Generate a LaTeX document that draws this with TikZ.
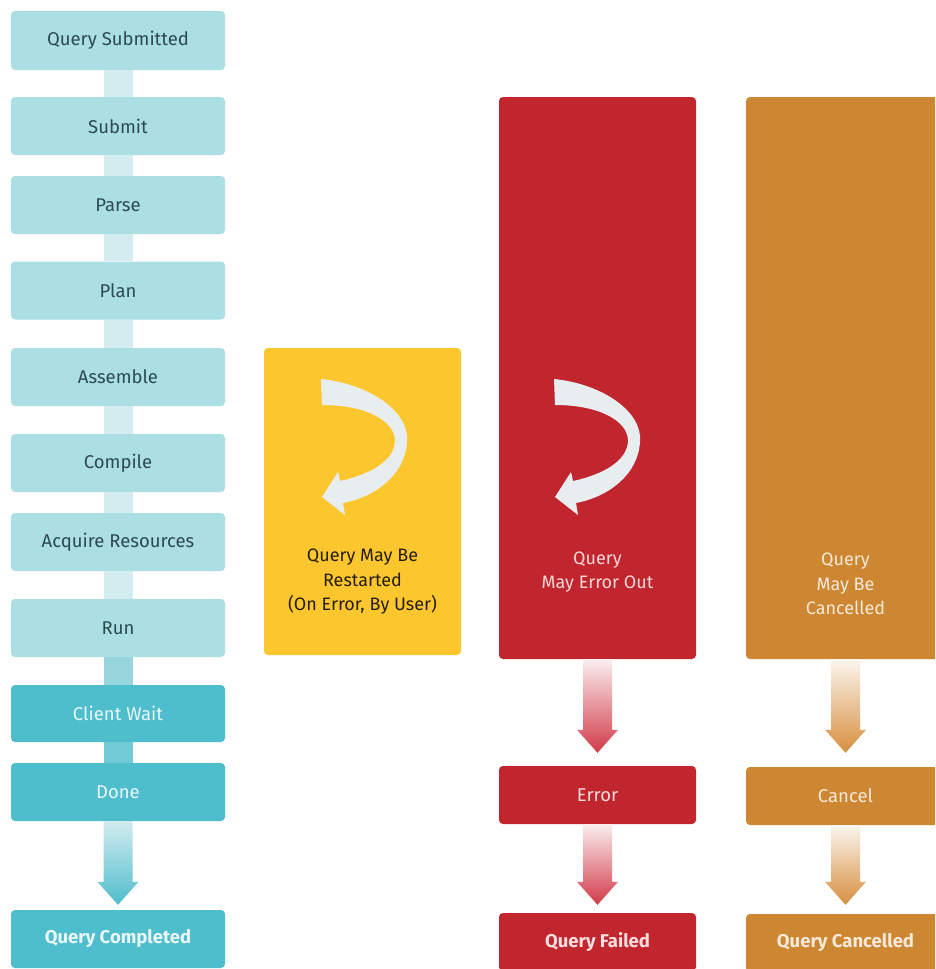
\documentclass[tikz,border=0pt]{standalone}
\usepackage{fontspec}
\setmainfont{Fira Sans}
\usetikzlibrary{calc}
\definecolor{lteal}{HTML}{ACDFE4}
\definecolor{bar}{HTML}{D2ECEF}
\definecolor{barmid}{HTML}{97D6DD}
\definecolor{dteal}{HTML}{4EBDCC}
\definecolor{yel}{HTML}{FCC72E}
\definecolor{redb}{HTML}{C1252D}
\definecolor{redarr}{HTML}{D23A48}
\definecolor{orab}{HTML}{CD8732}
\definecolor{oraarr}{HTML}{D88E3E}
\definecolor{curv}{HTML}{E8EEF0}
\definecolor{ltext}{HTML}{2C4A50}
\tikzset{
  box/.style={rounded corners=4pt, minimum width=214pt, minimum height=58pt, inner sep=0pt, font=\fontsize{18.5}{21}\selectfont, align=center},
  lbox/.style={box, fill=lteal, text=ltext},
  dbox/.style={box, fill=dteal, text=white!88!dteal},
  rbox/.style={box, minimum width=197pt, fill=redb, text=white!85!redb},
  obox/.style={box, minimum width=199pt, fill=orab, text=white!82!orab},
  bigbox/.style={rounded corners=4pt, inner sep=0pt},
  lbl/.style={font=\fontsize{18}{24.5}\selectfont, align=center, inner sep=0pt},
}
\newcommand\fatarr[5]{%
  \shade[top color=#3,bottom color=#4]
    ($(#1.south)+(-14.5,0)$) -- ($(#2.north)+(-14.5,-23-#5)$) -- ($(#2.north)+(-20.5,-23-#5)$)
    -- ($(#2.north)+(0,-#5)$) -- ($(#2.north)+(20.5,-23-#5)$) -- ($(#2.north)+(14.5,-23-#5)$)
    -- ($(#1.south)+(14.5,0)$) -- cycle;}
\newcommand\curvearrow{%
  \fill[curv] (321,379) .. controls (370,384) and (410,412) .. (407,442)
    .. controls (405,475) and (375,497) .. (343,503) -- (345,515) -- (322,497) -- (338,472) -- (340,481)
    .. controls (372,474) and (395,460) .. (395,440)
    .. controls (394,420) and (365,405) .. (322,405) -- cycle;}
\begin{document}
\begin{tikzpicture}[x=1pt,y=-1pt]
\path[use as bounding box, clip] (0,0) rectangle (935,969);
\fill[white] (0,0) rectangle (935,969);
% left column
\node[lbox, minimum height=59pt] (qs) at (118,40.5) {Query Submitted};
\node[lbox] (submit) at (118,126) {Submit};
\node[lbox] (parse) at (118,205) {Parse};
\node[lbox] (plan) at (118,290.5) {Plan};
\node[lbox] (assemble) at (118,377) {Assemble};
\node[lbox] (compile) at (118,463) {Compile};
\node[lbox] (acquire) at (118,542) {Acquire Resources};
\node[lbox] (run) at (118,628) {Run};
\node[dbox, minimum height=57pt] (wait) at (118,713.5) {Client Wait};
\node[dbox] (done) at (118,792) {Done};
\node[dbox] (qc) at (118,939) {\bfseries Query Completed};
\foreach \a/\b in {qs/submit, submit/parse, parse/plan, plan/assemble, assemble/compile, compile/acquire, acquire/run}
  \fill[bar] ($(\a.south)+(-14.5,0)$) rectangle ($(\b.north)+(14.5,0)$);
\fill[barmid] ($(run.south)+(-14.5,0)$) rectangle ($(wait.north)+(14.5,0)$);
\fill[dteal!80!white] ($(wait.south)+(-14.5,0)$) rectangle ($(done.north)+(14.5,0)$);
\fatarr{done}{qc}{bar}{dteal}{5}
% yellow
\node[bigbox, fill=yel, minimum width=197pt, minimum height=307pt] (restart) at (362.5,501.5) {};
\curvearrow
\node[lbl, text=black!85!yel] (restartlbl) at (362.5,582) {Query May Be\\Restarted\\(On Error, By User)};
% red
\node[bigbox, fill=redb, minimum width=197pt, minimum height=562pt] (errout) at (597.5,378) {};
\begin{scope}[xshift=233pt]\curvearrow\end{scope}
\node[lbl, text=white!82!redb] (erroutlbl) at (597.5,572) {Query\\May Error Out};
\node[rbox] (error) at (597.5,795) {Error};
\node[rbox] (failed) at (597.5,942) {\bfseries Query Failed};
\fatarr{errout}{error}{white!92!redb}{redarr}{13}
\fatarr{error}{failed}{white!92!redb}{redarr}{8}
% orange
\node[bigbox, fill=orab, minimum width=199pt, minimum height=562pt] (canc) at (845.5,378) {};
\node[lbl, text=white!82!orab] (canclbl) at (845.5,584) {Query\\May Be\\Cancelled};
\node[obox] (cancel) at (845.5,796) {Cancel};
\node[obox] (cancelled) at (845.5,943) {\bfseries Query Cancelled};
\fatarr{canc}{cancel}{white!92!orab}{oraarr}{14}
\fatarr{cancel}{cancelled}{white!92!orab}{oraarr}{9}
\end{tikzpicture}
\end{document}
